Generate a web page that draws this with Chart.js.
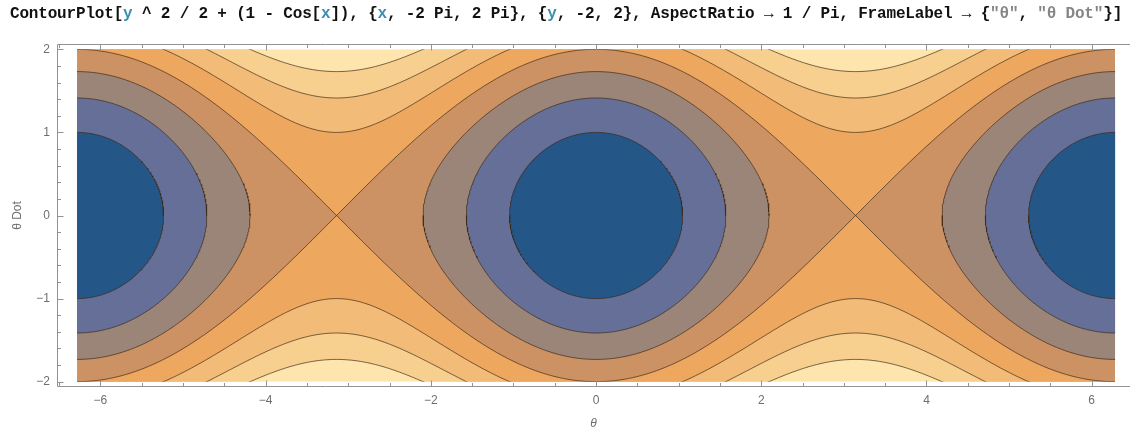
<!DOCTYPE html>
<html><head><meta charset="utf-8">
<script src="https://cdn.jsdelivr.net/npm/chart.js@4.4.1/dist/chart.umd.min.js"></script>
<style>
html,body{margin:0;padding:0;background:#fff;}
#wrap{position:relative;width:1130px;height:430px;overflow:hidden}
#title{position:absolute;left:10px;top:5px;font:bold 16px "Liberation Mono",monospace;color:#111;white-space:pre;}
.v{color:#3a8fb0}.s{color:#858585}
canvas{position:absolute;left:0;top:0}
</style></head><body>
<div id="wrap"><canvas id="c" width="1130" height="430"></canvas>
<div id="title">ContourPlot[<span class="v">y</span> ^ 2 / 2 + (1 - Cos[<span class="v">x</span>]), {<span class="v">x</span>, -2 Pi, 2 Pi}, {<span class="v">y</span>, -2, 2}, AspectRatio → 1 / Pi, FrameLabel → {<span class="s">"θ"</span>, <span class="s">"θ Dot"</span>}]</div>
</div>
<script>
// ---- data ----
const levels = [0.5, 1, 1.5, 2, 2.5, 3, 3.5];              // contour levels
const bandColors = ['#245688','#656f97','#9b8579','#cd9263','#eda75f','#f2bc78','#f7cf8f','#fde5ad'];
const xDomain = [-2 * Math.PI, 2 * Math.PI];
const yDomain = [-2, 2];
const xView = [-6.526, 6.464];
const yView = [-2.064, 2.064];
const xMajorTicks = [-6, -4, -2, 0, 2, 4, 6];
const xMinorTicks = [-6.5,-6,-5.5,-5,-4.5,-4,-3.5,-3,-2.5,-2,-1.5,-1,-0.5,0,0.5,1,1.5,2,2.5,3,3.5,4,4.5,5,5.5,6];
const yMajorTicks = [-2, -1, 0, 1, 2];
const yMinorTicks = [-2,-1.8,-1.6,-1.4,-1.2,-1,-0.8,-0.6,-0.4,-0.2,0,0.2,0.4,0.6,0.8,1,1.2,1.4,1.6,1.8,2];

const lineColor = 'rgba(60,40,20,0.68)';
const frameColor = '#929292';
const labelColor = '#6e6e6e';
const family = '"Liberation Sans", Arial, sans-serif';

// plotted function: E(x, y) = y^2/2 + (1 - cos x); solve E = c for y
function contourHalf(c, sign) {
  const pts = [];
  const yOf = x => sign * Math.sqrt(Math.max(0, 2 * (c - 1 + Math.cos(x))));
  if (c >= 2) {
    const N = 480;
    for (let i = 0; i <= N; i++) {
      const x = xDomain[0] + (xDomain[1] - xDomain[0]) * i / N;
      pts.push({x, y: yOf(x)});
    }
  } else {
    const x0 = Math.acos(1 - c);
    const centers = [-2 * Math.PI, 0, 2 * Math.PI];
    centers.forEach((m, j) => {
      if (j > 0) pts.push({x: (centers[j - 1] + m) / 2, y: null});
      const M = 200;
      for (let i = 0; i <= M; i++) {
        const x = m - x0 * Math.cos(Math.PI * i / M);
        pts.push({x, y: yOf(x)});
      }
    });
  }
  return pts;
}

const datasets = [{
  data: [{x: xDomain[0], y: yDomain[1]}, {x: xDomain[1], y: yDomain[1]}],
  fill: {value: yDomain[0]}, backgroundColor: bandColors[levels.length],
  borderWidth: 0, order: 100
}];
levels.forEach((c, k) => {
  datasets.push({data: contourHalf(c, 1), fill: '+1', backgroundColor: bandColors[k],
    borderColor: lineColor, borderWidth: 1, order: 2 * k + 11});
  datasets.push({data: contourHalf(c, -1), fill: false,
    borderColor: lineColor, borderWidth: 1, order: 2 * k + 10});
});

const fmt = v => (v < 0 ? '\u2212' + Math.abs(v) : String(v));

const clipPlugin = {
  id: 'domainClip',
  beforeDatasetsDraw(chart) {
    const {ctx, scales: {x, y}} = chart;
    const l = x.getPixelForValue(xDomain[0]), r = x.getPixelForValue(xDomain[1]);
    const t = y.getPixelForValue(yDomain[1]), b = y.getPixelForValue(yDomain[0]);
    ctx.save(); ctx.beginPath(); ctx.rect(l, t, r - l, b - t); ctx.clip();
  },
  afterDatasetsDraw(chart) { chart.ctx.restore(); }
};

const framePlugin = {
  id: 'frame',
  afterDraw(chart) {
    const {ctx, chartArea: a, scales: {x, y}} = chart;
    ctx.save();
    ctx.strokeStyle = frameColor; ctx.lineWidth = 1;
    const L = Math.round(a.left) + 0.5, T = Math.round(a.top) + 0.5, B = Math.round(a.bottom) - 0.5, R = a.right;
    ctx.beginPath();
    ctx.moveTo(L, T); ctx.lineTo(R, T);
    ctx.moveTo(L, T); ctx.lineTo(L, B); ctx.lineTo(R, B);
    x.ticks.forEach(t => {
      const px = Math.round(x.getPixelForValue(t.value)) + 0.5;
      const len = xMajorTicks.includes(t.value) ? 6 : 3.5;
      ctx.moveTo(px, B); ctx.lineTo(px, B - len);
      ctx.moveTo(px, T); ctx.lineTo(px, T + len);
    });
    y.ticks.forEach(t => {
      const py = Math.round(y.getPixelForValue(t.value)) + 0.5;
      const len = yMajorTicks.includes(t.value) ? 6 : 3.5;
      ctx.moveTo(L, py); ctx.lineTo(L + len, py);
    });
    ctx.stroke();
    ctx.restore();
  }
};

new Chart(document.getElementById('c'), {
  type: 'line',
  data: {datasets},
  options: {
    responsive: false, animation: false, events: [],
    layout: {padding: {top: 44, right: 0, bottom: 0, left: 0}},
    elements: {point: {radius: 0}, line: {tension: 0}},
    plugins: {legend: {display: false}, tooltip: {enabled: false}, title: {display: false}},
    scales: {
      x: {
        type: 'linear', min: xView[0], max: xView[1],
        grid: {display: false, drawTicks: false}, border: {display: false},
        afterBuildTicks: s => { s.ticks = xMinorTicks.map(v => ({value: v})); },
        afterFit: s => { s.height = 43; },
        ticks: {autoSkip: false, maxRotation: 0, padding: 6, color: labelColor,
          font: {size: 12, family}, callback: v => xMajorTicks.includes(v) ? fmt(v) : ''},
        title: {display: true, text: 'θ', color: labelColor,
          font: {size: 12, family, style: 'italic', lineHeight: 1}, padding: {top: 0, bottom: 0}}
      },
      y: {
        type: 'linear', min: yView[0], max: yView[1],
        grid: {display: false, drawTicks: false}, border: {display: false},
        afterBuildTicks: s => { s.ticks = yMinorTicks.map(v => ({value: v})); },
        afterFit: s => { s.width = 57; },
        ticks: {autoSkip: false, padding: 7, color: labelColor,
          font: {size: 12, family}, callback: v => yMajorTicks.includes(v) ? fmt(v) : ''},
        title: {display: true, text: 'θ Dot', color: labelColor,
          font: {size: 12, family, lineHeight: 1}, padding: {top: 12, bottom: 0}}
      }
    }
  },
  plugins: [clipPlugin, framePlugin]
});

const title = document.getElementById('title');
const w = title.getBoundingClientRect().width;
const n = title.textContent.length;
title.style.letterSpacing = ((1112 - w) / n) + 'px';
</script>
</body></html>
